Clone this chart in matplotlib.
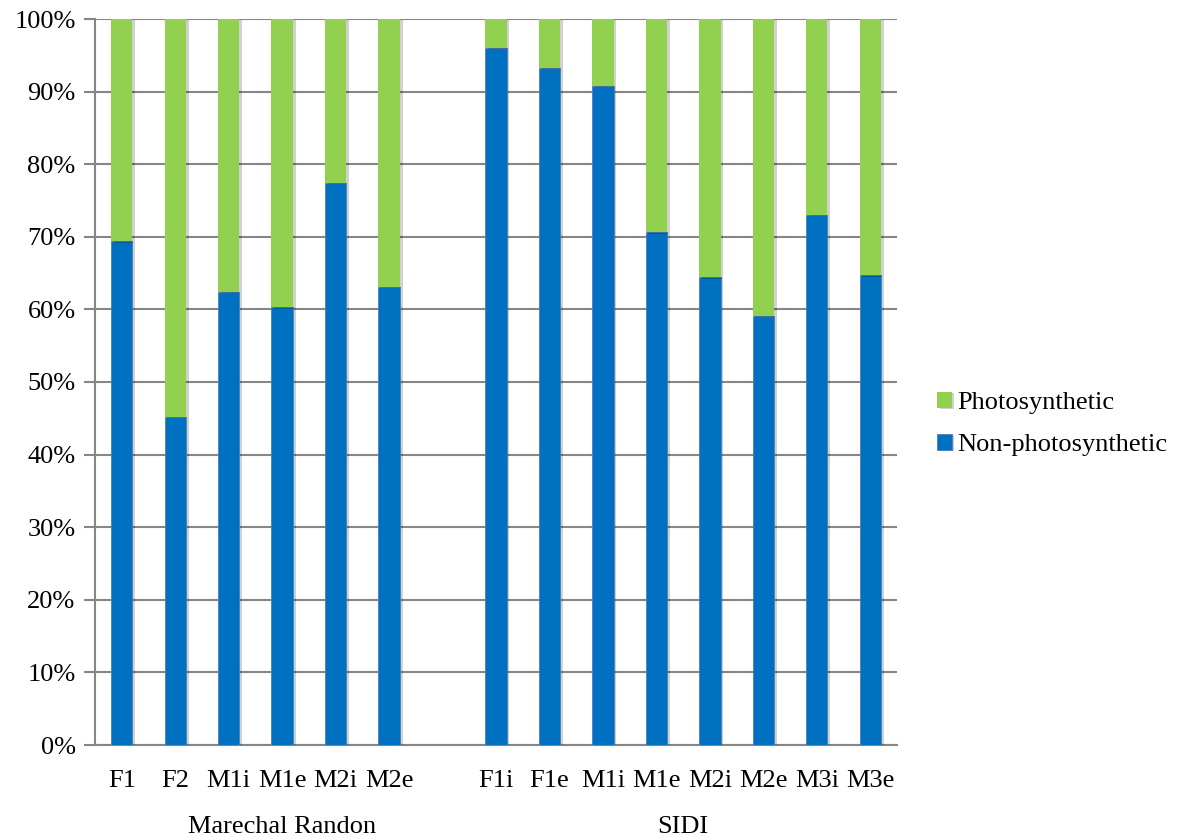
import matplotlib.pyplot as plt
import matplotlib.patheffects as pe
import numpy as np

plt.rcParams['font.family'] = ['Liberation Serif', 'DejaVu Serif']

# Share of each sample (%), two sites
groups = ['Marechal Randon', 'SIDI']
labels_mr = ['F1', 'F2', 'M1i', 'M1e', 'M2i', 'M2e']
labels_sidi = ['F1i', 'F1e', 'M1i', 'M1e', 'M2i', 'M2e', 'M3i', 'M3e']
nonphoto_mr = [69.4, 45.2, 62.4, 60.3, 77.4, 63.1]
nonphoto_sidi = [96.0, 93.3, 90.8, 70.6, 64.4, 59.1, 73.0, 64.7]

blue = '#0070C0'
green = '#92D050'
grid = '#868686'

# one empty slot between the two sites
x_mr = np.arange(len(labels_mr))
x_sidi = np.arange(len(labels_sidi)) + len(labels_mr) + 1
x = np.concatenate([x_mr, x_sidi])
nonphoto = np.array(nonphoto_mr + nonphoto_sidi)
photo = 100 - nonphoto
labels = labels_mr + labels_sidi

fig = plt.figure(figsize=(11.88, 8.38), dpi=100)
ax = fig.add_axes([95 / 1188, 1 - 745 / 838, (897 - 95) / 1188, (745 - 19) / 838])

shadow = [pe.SimplePatchShadow(offset=(2, -1), shadow_rgbFace='black', alpha=0.18), pe.Normal()]
b1 = ax.bar(x, nonphoto, width=0.4, color=blue, edgecolor='#4A7EBB', linewidth=0.6,
            label='Non-photosynthetic', zorder=3)
b2 = ax.bar(x, photo, bottom=nonphoto, width=0.4, color=green, linewidth=0,
            label='Photosynthetic', zorder=3)
for p in list(b1) + list(b2):
    p.set_path_effects(shadow)

n_slots = len(labels_mr) + 1 + len(labels_sidi)
ax.set_xlim(-0.5, n_slots - 0.5)
ax.set_ylim(0, 100)
ax.set_yticks(np.arange(0, 101, 10))
ax.set_yticklabels([f'{v}%' for v in range(0, 101, 10)], fontsize=19)
ax.yaxis.grid(True, color=grid, linewidth=1.5, zorder=0)
ax.set_axisbelow(True)

ax.set_xticks(x)
ax.set_xticklabels(labels, fontsize=19)
ax.tick_params(axis='x', length=0, pad=18)
ax.tick_params(axis='y', length=8, width=1.5, color=grid, pad=6)

for side in ['top', 'right']:
    ax.spines[side].set_visible(False)
for side in ['left', 'bottom']:
    ax.spines[side].set_color(grid)
    ax.spines[side].set_linewidth(1.5)

# site names under the sample labels; the first site also spans the empty slot
centers = [len(labels_mr) / 2, (x_sidi[0] + x_sidi[-1]) / 2]
for c, g in zip(centers, groups):
    ax.text(c, -11.3, g, ha='center', va='center', fontsize=19, clip_on=False)

handles = [b2, b1]
fig.legend(handles, ['Photosynthetic', 'Non-photosynthetic'],
           loc='center left', bbox_to_anchor=(937 / 1188, 1 - 424 / 838),
           frameon=False, fontsize=19, handlelength=0.55, handleheight=0.55,
           handletextpad=0.2, labelspacing=0.75, borderaxespad=0, borderpad=0)

fig.savefig('out.png', dpi=100)
